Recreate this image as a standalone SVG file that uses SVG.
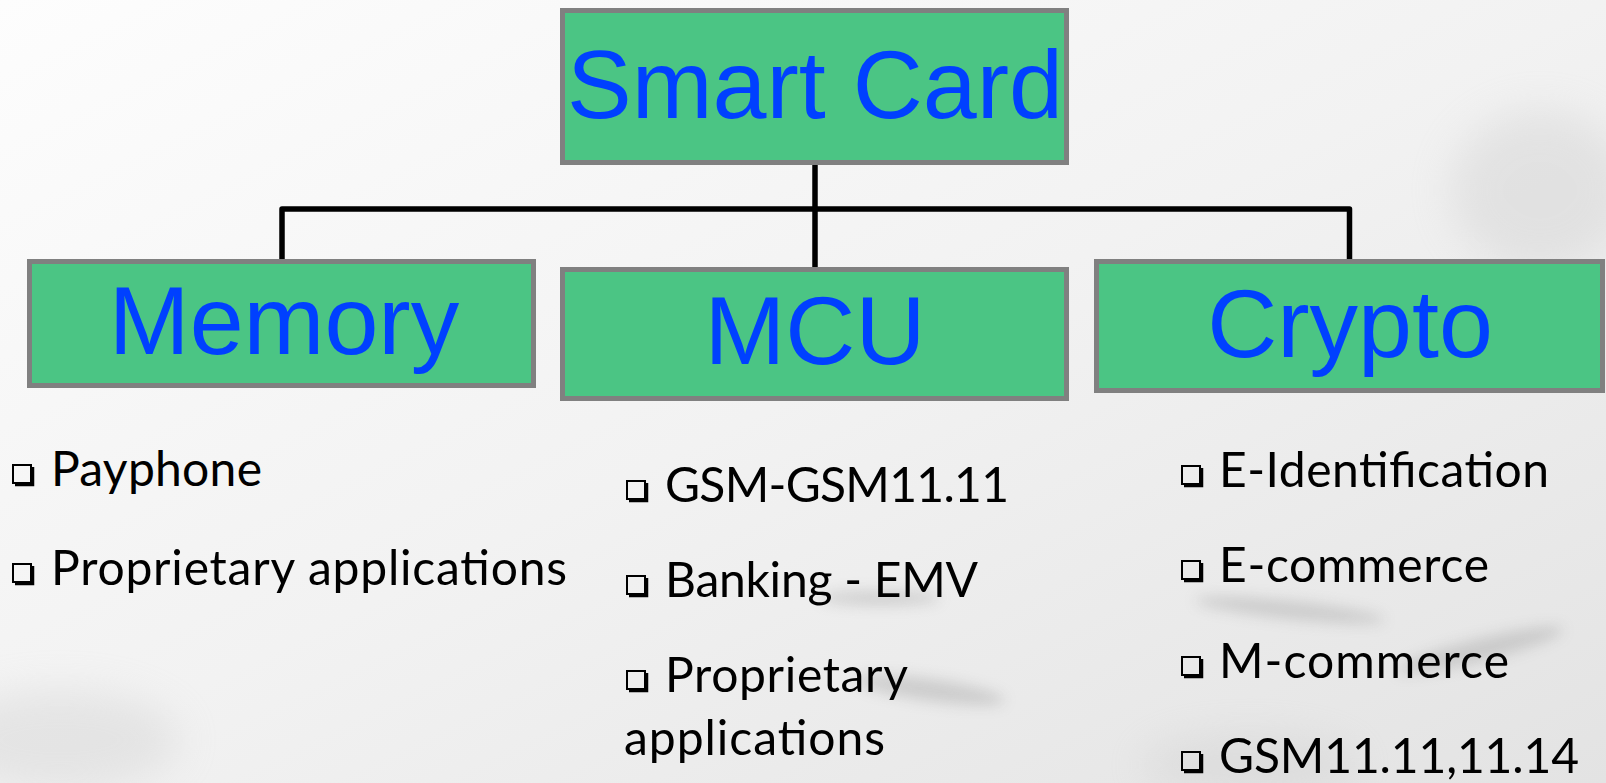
<svg xmlns="http://www.w3.org/2000/svg" width="1606" height="783" viewBox="0 0 1606 783">
  <style>
    .box { fill: #4bc584; stroke: #808080; stroke-width: 5; }
    .title { font-family: "Liberation Sans", Arial, sans-serif; font-size: 97px; fill: #0040ff; text-anchor: middle; }
    .item { font-family: Lato, "Noto Sans", sans-serif; font-size: 48px; fill: #000; }
    .wire { fill: none; stroke: #000; stroke-width: 5.5; stroke-linejoin: round; }
  </style>
  <defs>
    <linearGradient id="paper" x1="0" y1="0" x2="1" y2="1">
      <stop offset="0" stop-color="#fdfdfd"/>
      <stop offset="0.5" stop-color="#f2f2f2"/>
      <stop offset="1" stop-color="#e3e3e3"/>
    </linearGradient>
    <filter id="soft" x="-50%" y="-50%" width="200%" height="200%">
      <feGaussianBlur stdDeviation="20"/>
    </filter>
    <filter id="softer" x="-50%" y="-50%" width="200%" height="200%">
      <feGaussianBlur stdDeviation="7"/>
    </filter>
    <!-- shadowed square bullet -->
    <g id="bullet">
      <rect x="1" y="1" width="18" height="18" fill="none" stroke="#000" stroke-width="2"/>
      <path d="M3 20.5 H20.5 V3" fill="none" stroke="#000" stroke-width="3.5"/>
    </g>
  </defs>

  <!-- marbled backdrop -->
  <rect width="1606" height="783" fill="url(#paper)"/>
  <g fill="#c4c4c4" filter="url(#soft)" opacity="0.3">
    <ellipse cx="1540" cy="190" rx="90" ry="80"/>
    <ellipse cx="60" cy="740" rx="120" ry="50"/>
    <ellipse cx="1250" cy="765" rx="110" ry="30"/>
  </g>
  <g fill="#a0a0a0" filter="url(#softer)" opacity="0.4">
    <ellipse cx="930" cy="690" rx="75" ry="11" transform="rotate(8 930 690)"/>
    <ellipse cx="1290" cy="610" rx="95" ry="9" transform="rotate(6 1290 610)"/>
    <ellipse cx="1480" cy="650" rx="85" ry="11" transform="rotate(-14 1480 650)"/>
    <ellipse cx="880" cy="598" rx="60" ry="7"/>
  </g>

  <!-- tree connectors -->
  <g id="connectors">
    <path class="wire" d="M815 165 V209"/>
    <path class="wire" d="M282 259 V209 H1349.5 V259"/>
    <path class="wire" d="M815 209 V267"/>
  </g>

  <g id="smart-card">
    <rect class="box" x="562.5" y="10.5" width="504" height="152"/>
    <text class="title" x="815" y="118">Smart Card</text>
  </g>

  <g id="memory">
    <rect class="box" x="29.5" y="261.5" width="504" height="124"/>
    <text class="title" x="284" y="354">Memory</text>
    <use href="#bullet" x="12" y="464"/>
    <text class="item" x="51" y="486" textLength="211">Payphone</text>
    <use href="#bullet" x="12" y="563"/>
    <text class="item" x="51" y="585" textLength="516">Proprietary applications</text>
  </g>

  <g id="mcu">
    <rect class="box" x="562.5" y="269.5" width="504" height="129"/>
    <text class="title" x="815" y="364">MCU</text>
    <use href="#bullet" x="626" y="480"/>
    <text class="item" x="665" y="502" textLength="344">GSM-GSM11.11</text>
    <use href="#bullet" x="626" y="575"/>
    <text class="item" x="665" y="597" textLength="313">Banking - EMV</text>
    <use href="#bullet" x="626" y="670"/>
    <text class="item" x="665" y="692" textLength="243">Proprietary</text>
    <text class="item" x="624" y="755" textLength="261">applications</text>
  </g>

  <g id="crypto">
    <rect class="box" x="1096.5" y="261.5" width="506" height="129"/>
    <text class="title" x="1350" y="357">Crypto</text>
    <use href="#bullet" x="1181" y="465"/>
    <text class="item" x="1219" y="487" textLength="330">E-Identification</text>
    <use href="#bullet" x="1181" y="560"/>
    <text class="item" x="1219" y="582" textLength="270">E-commerce</text>
    <use href="#bullet" x="1181" y="656"/>
    <text class="item" x="1219" y="678" textLength="290">M-commerce</text>
    <use href="#bullet" x="1181" y="751"/>
    <text class="item" x="1219" y="773" textLength="360">GSM11.11,11.14</text>
  </g>
</svg>
